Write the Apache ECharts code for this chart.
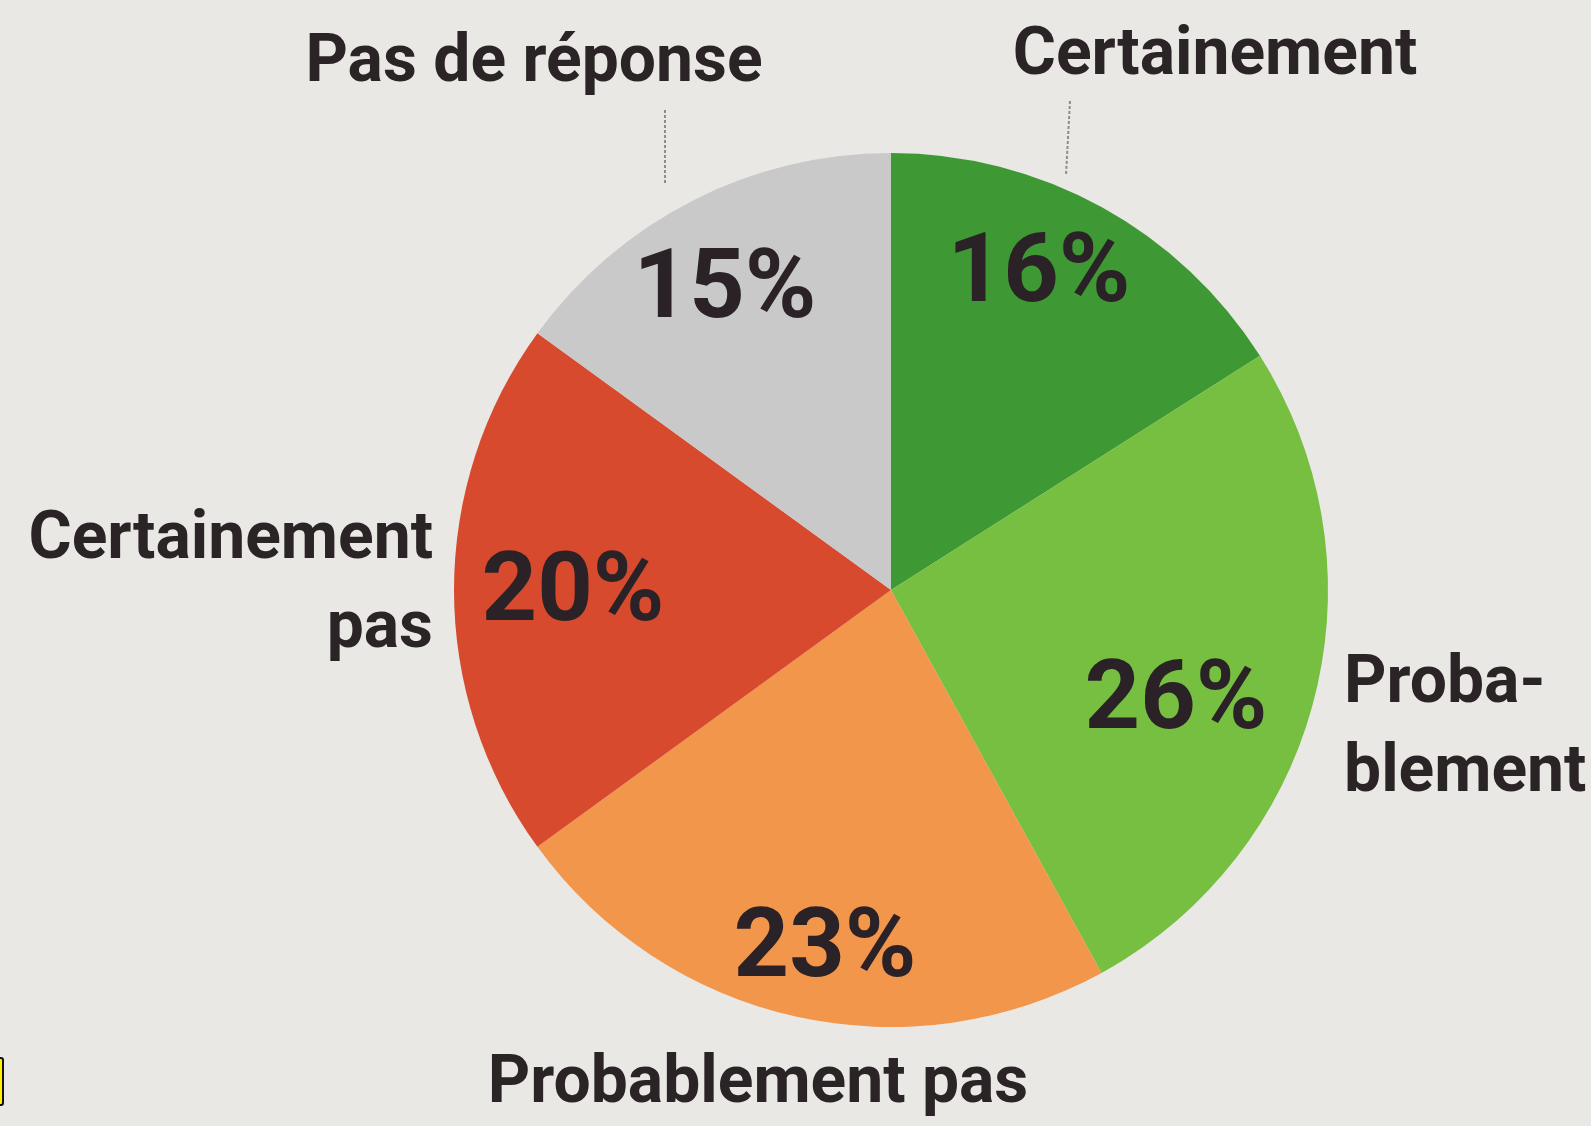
<!DOCTYPE html>
<html>
<head>
<meta charset="utf-8">
<script src="https://cdn.jsdelivr.net/npm/echarts@6/dist/echarts.min.js"></script>
<style>
  html, body { margin: 0; padding: 0; background: #eae8e5; }
  #main { width: 1591px; height: 1126px; }
</style>
</head>
<body>
<div id="main"></div>
<script>
// categories, clockwise from 12 o'clock
var categories = ['Certainement', 'Proba-\nblement', 'Probablement pas', 'Certainement\npas', 'Pas de réponse'];
var values = [16, 26, 23, 20, 15];
var colors = ['#3e9834', '#76bf40', '#f2964c', '#d84a2d', '#c8c9c8'];

// where the labels sit on the page (names outside, percentages inside)
var namePos = [
    { x: 1215, y: 57, align: 'center' },
    { x: 1344, y: 730, align: 'left' },
    { x: 758, y: 1085, align: 'center' },
    { x: 433, y: 586, align: 'right' },
    { x: 534, y: 64, align: 'center' }
];
var pctPos = [
    { x: 1039, y: 277 },
    { x: 1176, y: 704 },
    { x: 825, y: 952 },
    { x: 573, y: 596 },
    { x: 725, y: 293 }
];

var font = 'Roboto, "Liberation Sans", sans-serif';

var myChart = echarts.init(document.getElementById('main'));

var option = {
    backgroundColor: '#eae8e5',
    animation: false,
    series: [
        {
            // the pie itself, with the category names
            type: 'pie',
            center: [891, 590],
            radius: [0, 437],
            startAngle: 90,
            clockwise: true,
            silent: true,
            data: categories.map(function (c, i) {
                return { name: c, value: values[i], itemStyle: { color: colors[i] } };
            }),
            itemStyle: { borderWidth: 0 },
            label: {
                show: true,
                position: 'inside',
                formatter: '{b}',
                fontFamily: font,
                fontWeight: 'bold',
                fontSize: 66,
                lineHeight: 89,
                color: '#2b2427'
            },
            labelLine: { show: false },
            labelLayout: function (p) {
                var q = namePos[p.dataIndex];
                return { x: q.x, y: q.y, align: q.align, verticalAlign: 'middle', hideOverlap: false };
            }
        },
        {
            // same slices, transparent, only to carry the percentages
            type: 'pie',
            center: [891, 590],
            radius: [0, 437],
            startAngle: 90,
            clockwise: true,
            silent: true,
            data: categories.map(function (c, i) {
                return { name: c, value: values[i] };
            }),
            itemStyle: { color: 'rgba(0,0,0,0)' },
            label: {
                show: true,
                position: 'inside',
                formatter: '{c}%',
                fontFamily: font,
                fontWeight: 'bold',
                fontSize: 97,
                color: '#2a2226'
            },
            labelLine: { show: false },
            labelLayout: function (p) {
                var q = pctPos[p.dataIndex];
                return { x: q.x, y: q.y, align: 'center', verticalAlign: 'middle', hideOverlap: false };
            }
        }
    ],
    graphic: [
        // small leader strokes under the two top labels
        { type: 'line', shape: { x1: 665, y1: 110, x2: 665, y2: 183 }, style: { stroke: '#8c8c8c', lineWidth: 2, lineDash: [3, 2] } },
        { type: 'line', shape: { x1: 1070, y1: 101, x2: 1066, y2: 175 }, style: { stroke: '#8c8c8c', lineWidth: 2, lineDash: [3, 2] } },
        // yellow marker cut by the left edge
        { type: 'rect', shape: { x: -6, y: 1058, width: 9, height: 47, r: 2 }, style: { fill: '#fff200', stroke: '#111', lineWidth: 2 } }
    ]
};

myChart.setOption(option);
</script>
</body>
</html>
